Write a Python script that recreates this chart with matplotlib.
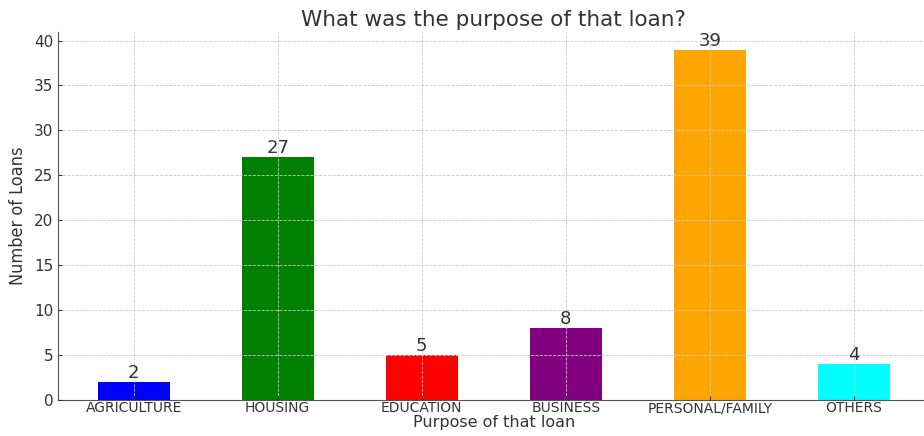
import matplotlib
matplotlib.use('Agg')
import matplotlib.pyplot as plt

purposes = ['AGRICULTURE', 'HOUSING', 'EDUCATION', 'BUSINESS', 'PERSONAL/FAMILY', 'OTHERS']
counts = [2, 27, 5, 8, 39, 4]
colors = ['blue', 'green', 'red', 'purple', 'orange', 'cyan']

ink = '#333333'
plt.rcParams['font.family'] = 'DejaVu Sans'
plt.rcParams['text.color'] = ink
plt.rcParams['axes.labelcolor'] = ink
plt.rcParams['xtick.color'] = ink
plt.rcParams['ytick.color'] = ink

fig = plt.figure(figsize=(9.24, 4.36), dpi=100)
ax = fig.add_axes([0.0628, 0.0826, 0.943, 0.844])

bars = ax.bar(purposes, counts, color=colors, width=0.5)
for b, v in zip(bars, counts):
    ax.text(b.get_x() + b.get_width() / 2, v, str(v), ha='center', va='bottom', fontsize=13)

ax.grid(True, linestyle='--', color='#c8c8c8', linewidth=0.6)
ax.set_axisbelow(False)
ax.spines['top'].set_visible(False)
ax.spines['right'].set_visible(False)
ax.spines['left'].set_color('#555555')
ax.spines['bottom'].set_color('#555555')
ax.tick_params(direction='in', labelsize=11, length=3)
ax.tick_params(axis='x', labelsize=10, pad=1)

ax.set_title('What was the purpose of that loan?', fontsize=15.5, pad=4)
ax.set_xlabel('Purpose of that loan', fontsize=11.5, labelpad=0)
ax.set_ylabel('Number of Loans', fontsize=13, fontstretch='condensed', labelpad=5)

fig.savefig('out.png', dpi=100)
